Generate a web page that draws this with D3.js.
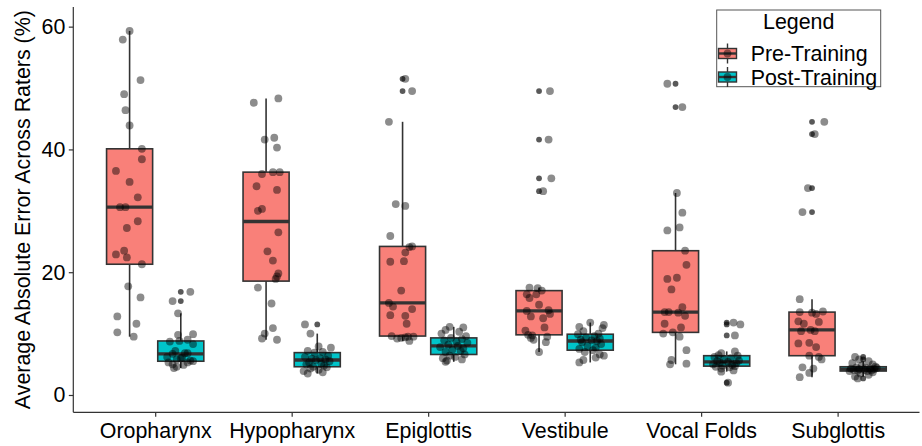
<!DOCTYPE html>
<html>
<head>
<meta charset="utf-8">
<script src="https://cdn.jsdelivr.net/npm/d3@7"></script>
<style>
  body { margin: 0; background: #fff; }
  svg text { font-family: "Liberation Sans", Arial, sans-serif; fill: #000; }
</style>
</head>
<body>
<svg id="chart" width="922" height="446"></svg>
<script>
// categories and series
var categories = ["Oropharynx", "Hypopharynx", "Epiglottis", "Vestibule", "Vocal Folds", "Subglottis"];
var seriesNames = ["Pre-Training", "Post-Training"];
var seriesColors = ["#F98079", "#00C4C9"];
var yTicks = [0, 20, 40, 60];

// per-region error values (%), one array per category
var preValues = [
	[59.3,57.9,51.3,49.0,46.4,43.9,40.1,38.4,36.5,34.7,32.2,30.6,30.6,28.3,27.2,23.5,22.9,22.4,21.3,17.7,15.9,12.8,11.6,10.2,9.5],
	[48.3,47.6,41.6,41.9,40.3,36.0,36.3,36.3,34.0,33.4,30.0,30.3,26.5,23.4,21.9,19.8,19.3,18.9,17.5,14.9,10.9,10.0,9.2,9.0],
	[51.5,49.5,44.5,31.1,30.8,25.9,24.2,24.1,23.2,21.7,21.8,17.0,15.0,14.4,14.0,13.0,12.9,11.6,9.6,9.3,9.4,9.5,8.8,9.2,9.5],
	[49.5,41.6,35.3,33.2,17.5,17.4,16.4,15.8,16.4,14.7,13.8,13.7,12.8,11.0,10.5,9.8,9.3,9.0,8.6,7.0,9.5,9.7,12.5,13.2,17.0],
	[50.7,46.9,32.9,29.7,27.3,26.8,23.5,21.2,18.9,19.1,17.2,14.3,13.5,13.5,12.9,11.6,11.0,10.2,9.5,7.3,5.7,5.0,5.1,10.0,13.4],
	[44.5,42.5,33.7,29.8,15.6,13.5,13.6,13.2,12.0,11.9,11.6,10.4,10.6,10.4,8.4,8.5,7.8,6.4,5.8,4.5,4.3,3.6,2.9,6.2,13.4]
];
var postValues = [
	[16.8,15.3,13.3,9.9,9.8,9.0,8.8,8.7,8.3,7.2,6.8,6.8,6.7,6.2,6.1,6.0,5.8,5.6,5.5,5.3,5.3,5.0,4.9,4.6,4.4],
	[11.5,10.0,7.9,7.7,7.2,7.0,6.9,6.4,6.2,6.0,5.9,5.8,5.7,5.5,5.3,5.1,5.0,4.8,4.6,4.5,4.3,4.1,3.9,3.7,3.5],
	[11.1,11.0,10.6,10.3,10.0,9.6,9.3,9.1,8.9,8.7,8.5,8.2,8.0,7.8,7.6,7.4,7.2,7.0,6.6,6.4,6.2,6.0,5.8,5.6,5.4],
	[11.8,11.4,11.1,10.9,10.4,10.0,9.9,9.6,9.4,9.2,9.0,8.9,8.8,8.6,8.3,8.0,7.7,7.5,7.3,7.0,6.6,6.4,6.1,5.7,5.3],
	[11.8,11.5,9.7,7.1,6.8,6.5,6.4,6.2,6.0,5.8,5.6,5.5,5.4,5.3,5.2,5.0,4.9,4.8,4.7,4.6,4.5,4.3,4.0,3.8,2.0],
	[6.2,5.8,5.5,5.2,5.0,4.8,4.6,4.5,4.4,4.4,4.3,4.3,4.2,4.2,4.1,4.1,4.0,4.0,3.9,3.9,3.7,3.5,3.3,3.0,2.7]
];

// horizontal jitter of each point, in category units
var preJitter = [
	[0.00,-0.05,0.08,-0.04,-0.03,0.00,0.09,0.09,-0.10,0.00,0.06,-0.07,-0.03,0.06,-0.02,-0.04,-0.10,-0.02,0.09,-0.01,0.08,-0.09,0.05,-0.09,0.03],
	[0.09,-0.09,-0.01,0.06,0.08,-0.03,0.05,0.10,-0.07,0.08,-0.06,-0.03,0.09,0.01,0.05,0.09,0.08,0.07,-0.06,0.04,0.05,-0.01,-0.03,0.08],
	[0.02,0.07,-0.10,-0.05,0.02,-0.09,0.07,0.05,0.02,-0.09,0.01,-0.01,-0.10,-0.07,0.07,-0.09,0.02,0.03,-0.08,-0.01,0.02,0.04,0.05,-0.04,0.08],
	[0.08,0.07,0.09,0.03,-0.07,-0.01,-0.09,-0.07,-0.02,0.00,0.07,-0.09,-0.06,0.04,-0.10,-0.08,-0.06,-0.04,0.05,0.00,0.06,-0.05,0.03,0.08,0.02],
	[-0.06,0.05,0.01,0.05,0.03,-0.06,0.07,0.08,-0.06,0.01,-0.03,0.05,-0.08,-0.05,0.07,-0.08,0.04,-0.02,0.03,0.08,-0.03,-0.04,0.08,-0.09,0.02],
	[0.09,0.02,-0.03,-0.07,-0.09,-0.09,0.08,0.03,-0.10,0.05,-0.06,-0.08,-0.01,0.02,-0.10,-0.02,0.03,-0.02,0.07,-0.07,0.01,-0.02,-0.09,0.05,0.00]
];
var postJitter = [
	[0.07,-0.06,-0.02,0.09,-0.02,0.05,-0.01,-0.08,0.09,-0.04,0.03,0.05,-0.06,-0.10,0.01,0.00,-0.03,0.07,0.09,-0.09,0.05,-0.06,0.02,-0.03,-0.05],
	[-0.09,-0.05,0.01,0.10,-0.07,0.04,-0.02,0.08,-0.09,0.02,-0.04,0.06,-0.01,0.09,-0.06,0.03,-0.08,0.05,-0.03,0.07,-0.05,0.01,-0.10,0.04,-0.07],
	[-0.03,0.07,-0.06,0.04,-0.09,0.09,-0.02,0.06,-0.07,0.02,0.10,-0.04,0.03,-0.10,0.07,-0.01,0.05,-0.06,0.08,-0.03,0.01,-0.08,0.06,-0.05,-0.06],
	[0.00,0.10,-0.08,0.09,-0.05,0.06,-0.09,0.03,-0.03,0.07,-0.07,0.01,0.05,-0.06,0.08,-0.02,0.04,-0.08,0.02,-0.04,0.07,0.10,0.04,-0.05,-0.08],
	[0.05,0.10,0.06,0.06,-0.04,-0.06,0.08,-0.09,0.03,-0.02,0.09,-0.07,0.01,-0.05,0.07,-0.10,0.04,-0.03,0.06,-0.08,0.02,-0.04,0.05,-0.04,0.01],
	[-0.06,-0.03,0.04,-0.08,0.07,-0.01,0.09,-0.05,0.02,0.10,-0.09,0.05,-0.03,0.08,-0.07,0.01,0.06,-0.04,0.03,-0.10,0.07,-0.02,0.04,-0.06,-0.04]
];

(function () {
	var values = [preValues, postValues];
	var jitter = [preJitter, postJitter];

	var svg = d3.select("#chart");
	var mLeft = 73.3, mRight = 919.5, mTop = 7, mBottom = 412.3;
	var fontSize = 21.4;
	var ink = "#333333";

	var x = d3.scalePoint().domain(categories).range([mLeft, mRight]).padding(0.6);
	var y = d3.scaleLinear().domain([-2.82, 63.2]).range([mBottom, mTop]);
	var step = x.step();
	var dodge = 0.1875 * step;
	var boxW = 0.3375 * step;

	function boxStats(vals) {
		var s = vals.slice().sort(d3.ascending);
		var q1 = d3.quantile(s, 0.25), med = d3.quantile(s, 0.5), q3 = d3.quantile(s, 0.75);
		var iqr = q3 - q1;
		var lo = q1 - 1.5 * iqr, hi = q3 + 1.5 * iqr;
		var inside = s.filter(function (v) { return v >= lo && v <= hi; });
		return {
			q1: q1, med: med, q3: q3,
			wlo: d3.min(inside), whi: d3.max(inside),
			outliers: s.filter(function (v) { return v < lo || v > hi; })
		};
	}

	// boxplots
	var boxLayer = svg.append("g");
	seriesNames.forEach(function (name, si) {
		categories.forEach(function (cat, ci) {
			var cx = x(cat) + (si == 0 ? -dodge : dodge);
			var st = boxStats(values[si][ci]);
			var g = boxLayer.append("g");
			g.append("line")
				.attr("x1", cx).attr("x2", cx)
				.attr("y1", y(st.whi)).attr("y2", y(st.q3))
				.attr("stroke", ink).attr("stroke-width", 1.6);
			g.append("line")
				.attr("x1", cx).attr("x2", cx)
				.attr("y1", y(st.q1)).attr("y2", y(st.wlo))
				.attr("stroke", ink).attr("stroke-width", 1.6);
			g.append("rect")
				.attr("x", cx - boxW / 2).attr("width", boxW)
				.attr("y", y(st.q3)).attr("height", y(st.q1) - y(st.q3))
				.attr("fill", seriesColors[si])
				.attr("stroke", ink).attr("stroke-width", 1.6);
			g.append("line")
				.attr("x1", cx - boxW / 2).attr("x2", cx + boxW / 2)
				.attr("y1", y(st.med)).attr("y2", y(st.med))
				.attr("stroke", ink).attr("stroke-width", 3.4);
			g.selectAll("circle.out").data(st.outliers).enter().append("circle")
				.attr("class", "out")
				.attr("cx", cx).attr("cy", function (d) { return y(d); })
				.attr("r", 2.9)
				.attr("fill", "#000").attr("fill-opacity", 0.65);
		});
	});

	// jittered raw points
	var pointLayer = svg.append("g");
	seriesNames.forEach(function (name, si) {
		categories.forEach(function (cat, ci) {
			var cx = x(cat) + (si == 0 ? -dodge : dodge);
			var pts = values[si][ci].map(function (v, i) { return { v: v, j: jitter[si][ci][i] }; });
			pointLayer.selectAll(null).data(pts).enter().append("circle")
				.attr("cx", function (d) { return cx + d.j * step; })
				.attr("cy", function (d) { return y(d.v); })
				.attr("r", 3.9)
				.attr("fill", "#000").attr("fill-opacity", 0.45);
		});
	});

	// axes
	var yAxis = svg.append("g").attr("transform", "translate(" + mLeft + ",0)")
		.call(d3.axisLeft(y).tickValues(yTicks).tickSize(4.5).tickPadding(3.5));
	var xAxis = svg.append("g").attr("transform", "translate(0," + mBottom + ")")
		.call(d3.axisBottom(x).tickSize(4.5).tickPadding(6));
	[yAxis, xAxis].forEach(function (a) {
		a.select(".domain").remove();
		a.selectAll(".tick line").attr("stroke", ink).attr("stroke-width", 1.2);
		a.selectAll(".tick text").attr("font-size", fontSize).attr("fill", "#000");
	});
	svg.append("line").attr("x1", mLeft).attr("x2", mLeft).attr("y1", mTop).attr("y2", mBottom)
		.attr("stroke", ink).attr("stroke-width", 1.2);
	svg.append("line").attr("x1", mLeft).attr("x2", mRight).attr("y1", mBottom).attr("y2", mBottom)
		.attr("stroke", ink).attr("stroke-width", 1.2);

	svg.append("text")
		.attr("transform", "translate(30," + (mTop + mBottom) / 2 + ") rotate(-90)")
		.attr("text-anchor", "middle")
		.attr("font-size", fontSize)
		.text("Average Absolute Error Across Raters (%)");

	// legend
	var legend = svg.append("g").attr("transform", "translate(716.7,10)");
	legend.append("rect").attr("width", 164).attr("height", 76.7)
		.attr("fill", "#fff").attr("stroke", "#555").attr("stroke-width", 1);
	legend.append("text").attr("x", 82).attr("y", 19).attr("text-anchor", "middle")
		.attr("font-size", fontSize).text("Legend");
	seriesNames.forEach(function (name, si) {
		var ky = 43.5 + si * 23.5;
		var k = legend.append("g");
		k.append("line").attr("x1", 10.8).attr("x2", 10.8).attr("y1", ky - 10).attr("y2", ky + 10)
			.attr("stroke", ink).attr("stroke-width", 1.4);
		k.append("rect").attr("x", 1.8).attr("y", ky - 5).attr("width", 18).attr("height", 10)
			.attr("fill", seriesColors[si]).attr("stroke", ink).attr("stroke-width", 1.4);
		k.append("line").attr("x1", 1.8).attr("x2", 19.8).attr("y1", ky).attr("y2", ky)
			.attr("stroke", ink).attr("stroke-width", 2.4);
		k.append("circle").attr("cx", 10.8).attr("cy", ky).attr("r", 3.9)
			.attr("fill", "#000").attr("fill-opacity", 0.45);
		k.append("text").attr("x", 34).attr("y", ky + 7.5)
			.attr("font-size", fontSize).text(name);
	});
})();
</script>
</body>
</html>
